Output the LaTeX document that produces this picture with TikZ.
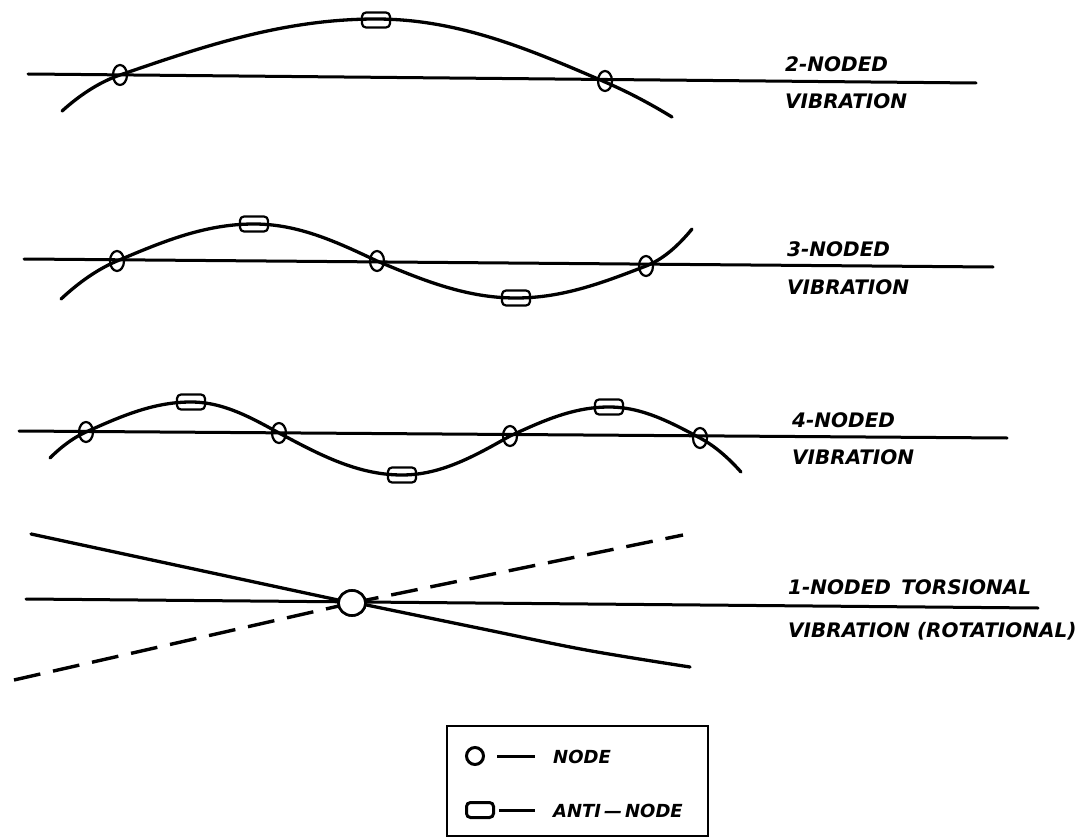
\documentclass[tikz,border=0pt]{standalone}
\usepackage{fontspec}
\newfontfamily\lblfont{DejaVu Sans}
\usetikzlibrary{shapes.geometric}
\begin{document}
\begin{tikzpicture}[x=1pt,y=-1pt,
  axisline/.style={line width=3pt, line cap=round},
  wave/.style={line width=3.3pt, line cap=round, line join=round},
  nodemark/.style={draw, ellipse, line width=2.2pt, inner sep=0pt, minimum width=14pt, minimum height=20pt},
  bignode/.style={draw, ellipse, fill=white, line width=2.6pt, inner sep=0pt, minimum width=27pt, minimum height=25pt},
  antimark/.style={draw, rectangle, rounded corners=4pt, line width=2.2pt, inner sep=0pt, minimum width=28pt, minimum height=15pt},
  lbl/.style={anchor=base west, inner sep=0pt, font=\lblfont\bfseries\itshape\fontsize{20}{22}\selectfont},
  legtxt/.style={anchor=base west, inner sep=0pt, font=\lblfont\bfseries\itshape\fontsize{18}{20}\selectfont},
  dashline/.style={line width=3.4pt, dash pattern=on 27pt off 13pt}
]
\useasboundingbox (0,0) rectangle (1079,837);

% ---------- Panel 1: 2-noded ----------
\coordinate (l1a) at (28,74);
\coordinate (l1b) at (976,83);
\draw[axisline] (l1a) -- (l1b);
\draw[wave] plot[domain=62:120,samples=20] (\x,{75-0.344*(\x-120)+0.00479*(\x-120)^2})
  -- plot[domain=120:376,samples=50] (\x,{75-56*sin((\x-120)/256*90)})
  -- plot[domain=376:605,samples=50] (\x,{82-63*cos((\x-376)/229*90)})
  -- plot[domain=605:672,samples=20] (\x,{82+0.432*(\x-605)+0.00136*(\x-605)^2});
\node[nodemark] (p1n1) at (120,75) {};
\node[nodemark] (p1n2) at (605,81) {};
\node[antimark] (p1a1) at (376,20) {};
\node[lbl] (t1a) at (785,72) {2-NODED};
\node[lbl] (t1b) at (785,109) {VIBRATION};

% ---------- Panel 2: 3-noded ----------
\coordinate (l2a) at (24,259);
\coordinate (l2b) at (993,267);
\draw[axisline] (l2a) -- (l2b);
\draw[wave] plot[domain=61:117,samples=20] (\x,{261-0.424*(\x-117)+0.00456*(\x-117)^2})
  -- plot[domain=117:254,samples=40] (\x,{261-37*sin((\x-117)/137*90)})
  -- plot[domain=254:377,samples=40] (\x,{261-37*cos((\x-254)/123*90)})
  -- plot[domain=377:516,samples=40] (\x,{261+37*sin((\x-377)/139*90)})
  -- plot[domain=516:646,samples=40] (\x,{266+32*cos((\x-516)/130*90)})
  -- plot[domain=646:692,samples=20] (\x,{266-0.387*(\x-646)-0.00907*(\x-646)^2});
\node[nodemark] (p2n1) at (117,261) {};
\node[nodemark] (p2n2) at (377,261) {};
\node[nodemark] (p2n3) at (646,266) {};
\node[antimark] (p2a1) at (254,224) {};
\node[antimark] (p2a2) at (516,298) {};
\node[lbl] (t2a) at (787,256) {3-NODED};
\node[lbl] (t2b) at (787,294) {VIBRATION};

% ---------- Panel 3: 4-noded ----------
\coordinate (l3a) at (19,431);
\coordinate (l3b) at (1007,438);
\draw[axisline] (l3a) -- (l3b);
\draw[wave] plot[domain=50:86,samples=15] (\x,{432-0.449*(\x-86)+0.00756*(\x-86)^2})
  -- plot[domain=86:191,samples=35] (\x,{432-30*sin((\x-86)/105*90)})
  -- plot[domain=191:279,samples=35] (\x,{433-31*cos((\x-191)/88*90)})
  -- plot[domain=279:402,samples=35] (\x,{433+42*sin((\x-279)/123*90)})
  -- plot[domain=402:510,samples=35] (\x,{436+39*cos((\x-402)/108*90)})
  -- plot[domain=510:609,samples=35] (\x,{436-29*sin((\x-510)/99*90)})
  -- plot[domain=609:700,samples=35] (\x,{438-31*cos((\x-609)/91*90)})
  -- plot[domain=700:741,samples=15] (\x,{438+0.535*(\x-700)+0.0072*(\x-700)^2});
\node[nodemark] (p3n1) at (86,432) {};
\node[nodemark] (p3n2) at (279,433) {};
\node[nodemark] (p3n3) at (510,436) {};
\node[nodemark] (p3n4) at (700,438) {};
\node[antimark] (p3a1) at (191,402) {};
\node[antimark] (p3a2) at (402,475) {};
\node[antimark] (p3a3) at (609,407) {};
\node[lbl] (t3a) at (792,427) {4-NODED};
\node[lbl] (t3b) at (792,464) {VIBRATION};

% ---------- Panel 4: 1-noded torsional ----------
\coordinate (l4a) at (26,599);
\coordinate (l4b) at (1038,608);
\draw[axisline] (l4a) -- (l4b);
\node[bignode] (p4n) at (352,603) {};
\coordinate (s1) at (31,534);
\coordinate (s2) at (690,667);
\coordinate (d1) at (14,680);
\coordinate (d2) at (683,535);
\draw[wave] (s1) -- (p4n.center);
\draw[wave] plot[smooth, tension=0.6] coordinates {(352,602) (483,629) (586,650) (690,667)};
\draw[dashline] (d1) -- (p4n.center);
\draw[dashline] (p4n.center) -- (d2);
\node[bignode] at (p4n) {};
\node[lbl] (t4a) at (788,594) {1-NODED \,TORSIONAL};
\node[lbl] (t4b) at (788,637) {VIBRATION (ROTATIONAL)};

% ---------- Legend ----------
\node[draw, line width=2.2pt, minimum width=261pt, minimum height=110pt, inner sep=0pt, anchor=north west] (legend) at (446,725) {};
\node[draw, circle, line width=3pt, minimum size=17pt, inner sep=0pt] (legnode) at (475,756) {};
\coordinate (ld1a) at (497,756);
\coordinate (ld1b) at (535,756);
\draw[line width=3pt] (ld1a) -- (ld1b);
\node[legtxt] (legt1) at (553,763) {NODE};
\node[draw, rectangle, rounded corners=4pt, line width=3pt, minimum width=27pt, minimum height=15pt, inner sep=0pt] (legant) at (480,810) {};
\coordinate (ld2a) at (499,810);
\coordinate (ld2b) at (535,810);
\draw[line width=3pt] (ld2a) -- (ld2b);
\node[legtxt] (legt2) at (553,817) {ANTI{\,}—{\,}NODE};
\end{tikzpicture}
\end{document}
